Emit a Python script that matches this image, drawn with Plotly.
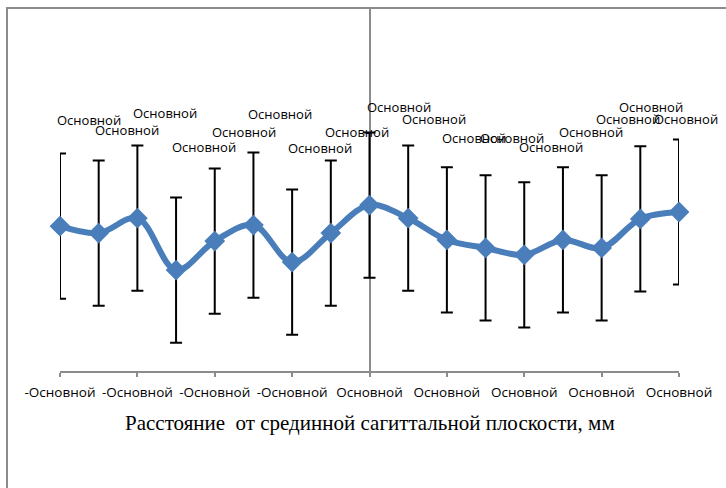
import plotly.graph_objects as go

# --- data ---
x_mm = [-8, -7, -6, -5, -4, -3, -2, -1, 0, 1, 2, 3, 4, 5, 6, 7, 8]
values = [3.99, 3.80, 4.21, 2.78, 3.58, 4.02, 3.00, 3.80, 4.57, 4.21, 3.61, 3.39, 3.20, 3.61, 3.39, 4.19, 4.38]
errors = [2.0] * 17
tick_vals = [-8, -6, -4, -2, 0, 2, 4, 6, 8]
tick_text = ["-Основной", "-Основной", "-Основной", "-Основной", "Основной",
             "Основной", "Основной", "Основной", "Основной"]
point_labels = ["Основной"] * 17
label_heights = [6.91, 6.64, 7.11, 6.17, 6.58, 7.08, 6.14, 6.58, 7.27, 6.94,
                 6.42, 6.42, 6.17, 6.58, 6.94, 7.27, 6.94]
label_xshift = [-5, -6, -6, -6, -5, -7, -6, -8, -5, -8, -7, -8, -7, -6, -8, -23, -27]
x_title = "Расстояние  от срединной сагиттальной плоскости, мм"

BLUE = "#4A7EBB"
GRAY = "#8C8C8C"
FONT = "Open Sans"

fig = go.Figure()
fig.add_trace(go.Scatter(
    x=x_mm, y=values, mode="lines+markers",
    line=dict(color=BLUE, width=6, shape="spline", smoothing=1.0),
    marker=dict(symbol="diamond", size=16, color=BLUE),
    error_y=dict(type="data", array=errors, color="black", thickness=2, width=6),
    cliponaxis=False, showlegend=False, hoverinfo="skip",
))

annotations = []
for xv, lab, h, xs in zip(x_mm, point_labels, label_heights, label_xshift):
    annotations.append(dict(
        x=xv, y=h, xref="x", yref="y", text=lab, showarrow=False,
        xanchor="left", yanchor="middle", xshift=xs,
        font=dict(family=FONT, size=13, color="black"),
    ))
annotations.append(dict(
    x=0.5, y=(371 - 423) / 363, xref="paper", yref="paper", text=x_title,
    showarrow=False, xanchor="center", yanchor="middle",
    font=dict(family="Liberation Serif", size=21, color="black"),
))

fig.update_layout(
    width=726, height=488,
    margin=dict(l=60, r=47, t=8, b=117),
    paper_bgcolor="white", plot_bgcolor="white",
    annotations=annotations,
    shapes=[dict(type="rect", xref="paper", yref="paper",
                 x0=(7 - 60) / 619, x1=1.3, y0=-0.6, y1=1.0,
                 line=dict(color=GRAY, width=2), layer="below")],
    xaxis=dict(range=[-8, 8], tickvals=tick_vals, ticktext=tick_text,
               showgrid=False, zeroline=True, zerolinecolor=GRAY, zerolinewidth=2,
               showline=True, linecolor=GRAY, linewidth=2,
               ticks="outside", ticklen=4, tickwidth=2, tickcolor=GRAY,
               ticklabelstandoff=4,
               tickfont=dict(family=FONT, size=13.5, color="black")),
    yaxis=dict(range=[0, 10], showgrid=False, zeroline=False, showline=False,
               showticklabels=False, ticks=""),
)

fig.write_html("out.html", config={"displayModeBar": False},
               post_script="document.body.style.margin='0px';")
